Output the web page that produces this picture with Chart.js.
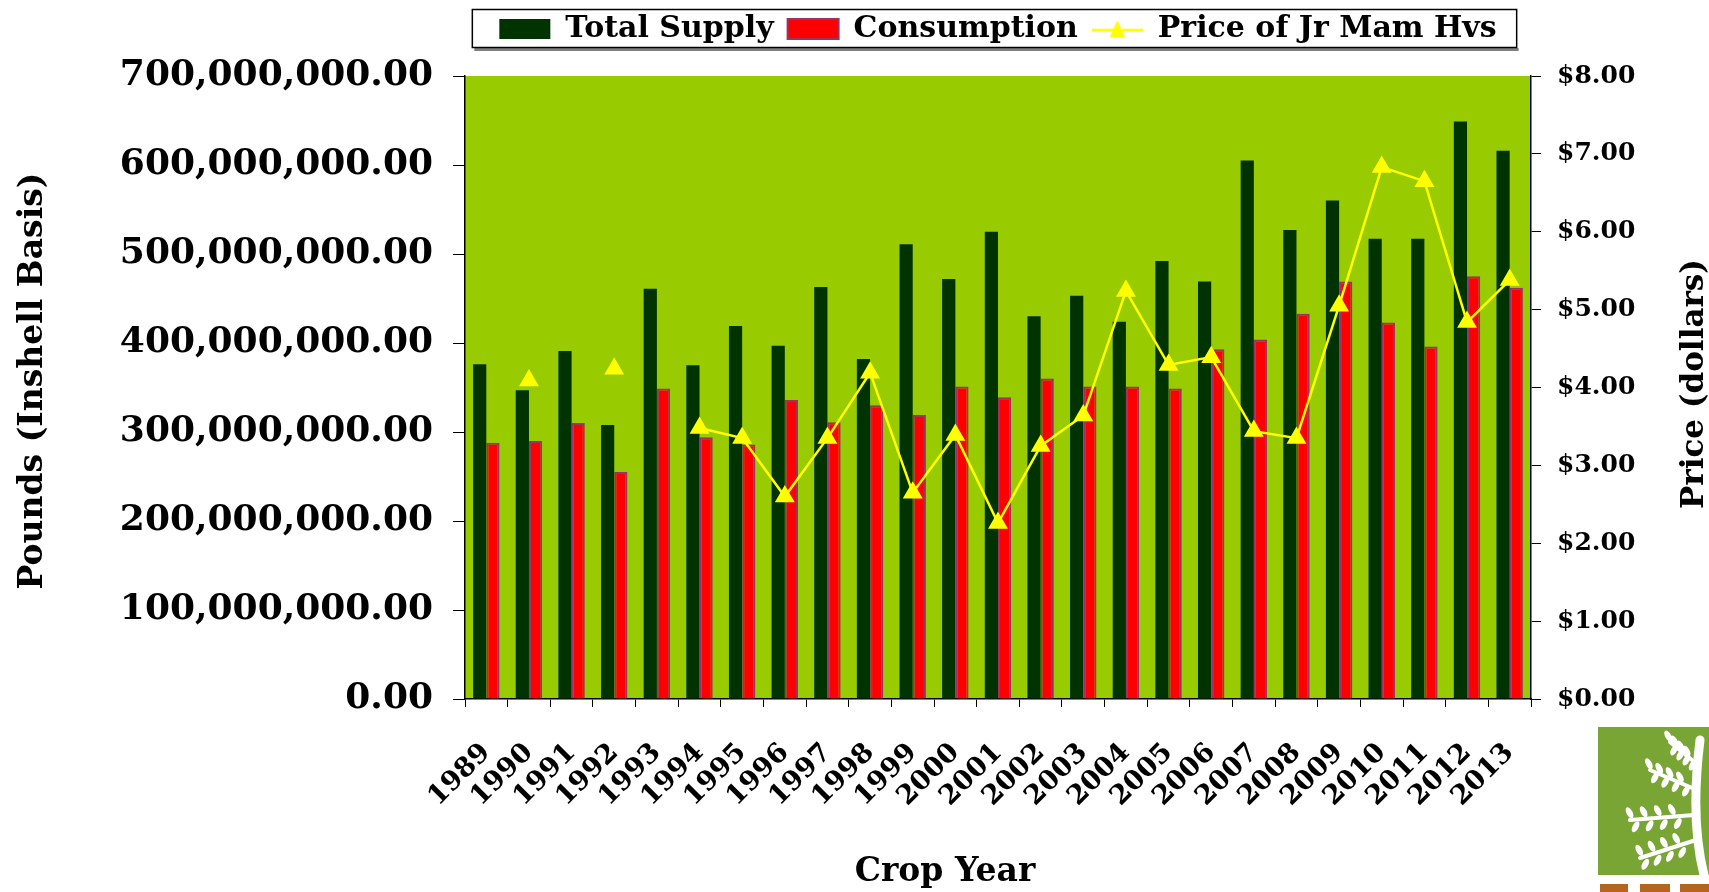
<!DOCTYPE html>
<html>
<head>
<meta charset="utf-8">
<title>Total Supply, Consumption and Price</title>
<script src="https://cdn.jsdelivr.net/npm/chart.js@4.4.1/dist/chart.umd.min.js"></script>
<style>
  html, body { margin: 0; padding: 0; background: #fff; }
</style>
</head>
<body>
<canvas id="myChart" width="1709" height="892"></canvas>
<script>
// data (pounds, inshell basis; price in dollars)
const years = ['1989', '1990', '1991', '1992', '1993', '1994', '1995', '1996', '1997', '1998', '1999', '2000',
    '2001', '2002', '2003', '2004', '2005', '2006', '2007', '2008', '2009', '2010', '2011', '2012', '2013'];
const totalSupply = [376e6, 347e6, 391e6, 308e6, 461e6, 375e6, 419e6, 397e6, 463e6, 382e6, 511e6, 472e6,
    525e6, 430e6, 453e6, 424e6, 492e6, 469e6, 605e6, 527e6, 560e6, 517e6, 517e6, 649e6, 616e6];
const consumption = [288e6, 290e6, 310e6, 255e6, 349e6, 294e6, 286e6, 336e6, 311e6, 330e6, 319e6, 351e6,
    339e6, 360e6, 351e6, 351e6, 349e6, 393e6, 404e6, 433e6, 469e6, 423e6, 396e6, 475e6, 462e6];
const price = [null, 4.09, null, 4.24, null, 3.48, 3.35, 2.60, 3.35, 4.19, 2.65, 3.39,
    2.26, 3.25, 3.64, 5.24, 4.29, 4.39, 3.44, 3.35, 5.05, 6.83, 6.65, 4.84, 5.38];
const poundTicks = ['0.00', '100,000,000.00', '200,000,000.00', '300,000,000.00', '400,000,000.00',
    '500,000,000.00', '600,000,000.00', '700,000,000.00'];
const priceTicks = ['$0.00', '$1.00', '$2.00', '$3.00', '$4.00', '$5.00', '$6.00', '$7.00', '$8.00'];

const FONT = '"DejaVu Serif", Georgia, serif';
Chart.defaults.font.family = FONT;
Chart.defaults.font.weight = 'bold';
Chart.defaults.color = '#000';

// legend icon for the price series: yellow line with a triangle
const priceIcon = document.createElement('canvas');
priceIcon.width = 51;
priceIcon.height = 22;
const pc = priceIcon.getContext('2d');
pc.strokeStyle = '#FFFF00';
pc.lineWidth = 2.5;
pc.beginPath(); pc.moveTo(0, 12); pc.lineTo(51, 12); pc.stroke();
pc.fillStyle = '#FFFF00';
pc.beginPath(); pc.moveTo(25.5, 2); pc.lineTo(33, 19); pc.lineTo(18, 19); pc.closePath(); pc.fill();

const plotBackground = {
    id: 'plotBackground',
    beforeDraw(chart) {
        const { ctx, chartArea: a } = chart;
        ctx.save();
        ctx.fillStyle = '#99CC00';
        ctx.fillRect(a.left, a.top, a.right - a.left, a.bottom - a.top);
        ctx.restore();
    }
};

// keep legend at the top but leave room above the plot
const legendRoom = {
    id: 'legendRoom',
    beforeLayout(chart) {
        const lg = chart.legend;
        if (lg && !lg._roomPatched) {
            const fit = lg.fit;
            lg.fit = function () { fit.call(this); this.height = 76; };
            lg._roomPatched = true;
        }
    }
};

function drawLogo(ctx) {
    ctx.fillStyle = '#78A534';
    ctx.fillRect(1598, 727, 111, 148);
    // rough white tree on the right of the block
    ctx.strokeStyle = '#fff';
    ctx.fillStyle = '#fff';
    ctx.lineCap = 'round';
    ctx.lineWidth = 9;
    ctx.beginPath(); ctx.moveTo(1704, 875); ctx.quadraticCurveTo(1690, 820, 1700, 740); ctx.stroke();
    ctx.lineWidth = 4;
    const branches = [[1696, 840, 1640, 858], [1694, 815, 1630, 820], [1697, 790, 1650, 770], [1698, 765, 1670, 742]];
    branches.forEach(b => {
        ctx.beginPath(); ctx.moveTo(b[0], b[1]); ctx.lineTo(b[2], b[3]); ctx.stroke();
        for (let k = 0; k < 4; k++) {
            const t = 0.3 + k * 0.22;
            const lx = b[0] + (b[2] - b[0]) * t, ly = b[1] + (b[3] - b[1]) * t;
            ctx.beginPath(); ctx.ellipse(lx - 3, ly - 7, 3, 6, -0.5, 0, Math.PI * 2); ctx.fill();
            ctx.beginPath(); ctx.ellipse(lx + 3, ly + 7, 3, 6, 0.5, 0, Math.PI * 2); ctx.fill();
        }
    });
    ctx.fillStyle = '#B5651D';
    ctx.fillRect(1600, 884, 28, 8);
    ctx.fillRect(1640, 884, 30, 8);
    ctx.fillRect(1680, 884, 29, 8);
}

const extras = {
    id: 'extras',
    afterDraw(chart) {
        const ctx = chart.ctx;
        const boxes = chart.legend.legendHitBoxes;
        ctx.save();
        // legend frame
        if (boxes && boxes.length) {
            const last = boxes[boxes.length - 1];
            const l = boxes[0].left - 27, r = last.left + last.width + 20;
            ctx.fillStyle = '#808080';
            ctx.fillRect(l + 2, 48, r - l, 3);
            ctx.strokeStyle = '#000';
            ctx.lineWidth = 1.5;
            ctx.strokeRect(l, 9.5, r - l, 38);
        }
        // axis titles
        ctx.fillStyle = '#000';
        ctx.font = 'bold 33px ' + FONT;
        ctx.textAlign = 'center';
        ctx.textBaseline = 'middle';
        ctx.fillText('Crop Year', 945, 872);
        ctx.translate(33, 381);
        ctx.rotate(-Math.PI / 2);
        ctx.fillText('Pounds (Inshell Basis)', 0, 0);
        ctx.setTransform(1, 0, 0, 1, 0, 0);
        ctx.font = 'bold 31px ' + FONT;
        ctx.translate(1695, 384);
        ctx.rotate(-Math.PI / 2);
        ctx.fillText('Price (dollars)', 0, 0);
        ctx.setTransform(1, 0, 0, 1, 0, 0);
        drawLogo(ctx);
        ctx.restore();
    }
};

const ctx = document.getElementById('myChart').getContext('2d');
new Chart(ctx, {
    type: 'bar',
    data: {
        labels: years,
        datasets: [
            {
                label: 'Total Supply',
                data: totalSupply,
                backgroundColor: '#003300',
                borderWidth: 0,
                yAxisID: 'y',
                order: 1,
                categoryPercentage: 0.62,
                barPercentage: 1.0
            },
            {
                label: 'Consumption',
                data: consumption,
                backgroundColor: '#FF0000',
                borderColor: '#993366',
                borderWidth: 2,
                yAxisID: 'y',
                order: 2,
                categoryPercentage: 0.62,
                barPercentage: 1.0
            },
            {
                type: 'line',
                label: 'Price of Jr Mam Hvs',
                data: price,
                borderColor: '#FFFF00',
                backgroundColor: '#FFFF00',
                borderWidth: 2.5,
                pointStyle: 'triangle',
                pointRadius: 9,
                pointBackgroundColor: '#FFFF00',
                pointBorderColor: '#FFFF00',
                tension: 0,
                spanGaps: false,
                yAxisID: 'y1',
                order: 0
            }
        ]
    },
    options: {
        responsive: false,
        animation: false,
        layout: { padding: 0 },
        plugins: {
            tooltip: { enabled: false },
            title: { display: false },
            legend: {
                position: 'top',
                fullSize: false,
                labels: {
                    usePointStyle: true,
                    pointStyleWidth: 51,
                    boxHeight: 20,
                    padding: 14,
                    color: '#000',
                    font: { family: FONT, size: 30, weight: 'bold' },
                    generateLabels(chart) {
                        const items = Chart.defaults.plugins.legend.labels.generateLabels(chart);
                        items.sort((p, q) => p.datasetIndex - q.datasetIndex);
                        items.forEach(it => {
                            it.pointStyle = it.datasetIndex === 2 ? priceIcon : 'rect';
                        });
                        return items;
                    }
                }
            }
        },
        scales: {
            x: {
                offset: true,
                afterFit(s) { s.height = 193; },
                grid: { offset: true, drawOnChartArea: false, tickLength: 8, color: '#000' },
                border: { color: '#000', width: 1.5 },
                ticks: {
                    autoSkip: false,
                    minRotation: 45,
                    maxRotation: 45,
                    padding: 30,
                    color: '#000',
                    font: { size: 27, weight: 'bold' }
                }
            },
            y: {
                position: 'left',
                min: 0,
                max: 700e6,
                afterFit(s) { s.width = 465; },
                grid: { drawOnChartArea: false, tickLength: 12, color: '#000' },
                border: { color: '#000', width: 1.5 },
                ticks: {
                    stepSize: 100e6,
                    padding: 20,
                    color: '#000',
                    font: { size: 36, weight: 'bold' },
                    callback: (v, i) => poundTicks[i]
                }
            },
            y1: {
                position: 'right',
                min: 0,
                max: 8,
                afterFit(s) { s.width = 178; },
                grid: { drawOnChartArea: false, tickLength: 10, color: '#000' },
                border: { color: '#000', width: 1.5 },
                ticks: {
                    stepSize: 1,
                    padding: 16,
                    color: '#000',
                    font: { size: 25, weight: 'bold' },
                    callback: (v, i) => priceTicks[i]
                }
            }
        }
    },
    plugins: [plotBackground, legendRoom, extras]
});
</script>
</body>
</html>
